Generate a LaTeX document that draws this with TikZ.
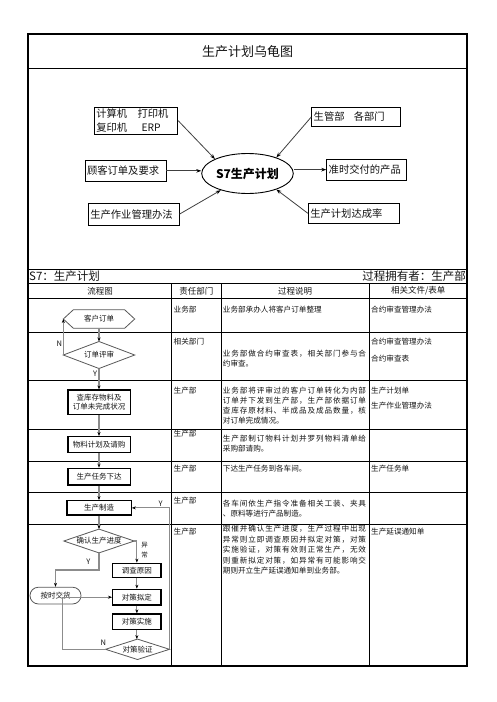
\documentclass[tikz,border=0pt]{standalone}
\usepackage{fontspec}
\setmainfont{Noto Sans CJK SC}
\newfontfamily\jfam[LetterSpace=11.5]{Noto Sans CJK SC}
\newcommand\jline[1]{{\jfam #1}}
\usetikzlibrary{arrows.meta,shapes.geometric,calc}
\begin{document}
\begin{tikzpicture}[x=1pt,y=-1pt,
  every node/.style={inner sep=0pt, text=black!92},
  frame/.style={line width=1.3pt},
  grid/.style={line width=0.9pt},
  tbox/.style={draw, line width=0.9pt, inner xsep=2pt, inner ysep=0pt, align=left, font=\fontsize{10.3}{13.3}\selectfont},
  tarrow/.style={draw=black!75, line width=0.8pt, -{Stealth[length=5pt,width=3.6pt,black]}},
  fbox/.style={draw=black, line width=1.3pt, font=\fontsize{7.5}{9.5}\selectfont, align=center},
  ftxt/.style={font=\fontsize{7.5}{9.5}\selectfont},
  fshape/.style={draw=black!65, line width=0.8pt},
  flow/.style={draw=black!45, line width=1.1pt, -{Stealth[length=4pt,width=3pt,black]}},
  cell/.style={anchor=north west, align=left, font=\fontsize{7.6}{10}\selectfont},
  head/.style={font=\fontsize{8.5}{10}\selectfont},
]
\useasboundingbox (0,0) rectangle (496,702);
\fill[white] (0,0) rectangle (496,702);

% ---------- frame and table lines ----------
\draw[frame] (28,34) rectangle (467,666);
\draw[grid] (28,68) -- (467,68);
\draw[grid] (28,269) -- (467,269);
\draw[grid] (28,283.5) -- (467,283.5);
\foreach \yy in {298.3,332.7,380,429.3,461,492.7,524}
  \draw[grid] (28,\yy) -- (467,\yy);
\foreach \xx in {171.7,221,369.3}
  \draw[grid] (\xx,283.5) -- (\xx,666);

% ---------- title ----------
\node[font=\fontsize{13}{15}\selectfont] (title) at (247.5,51.5) {生产计划乌龟图};

% ---------- turtle diagram ----------
\node[ellipse, draw, line width=0.9pt, minimum width=91.6pt, minimum height=40pt,
      font=\fontsize{12}{14}\selectfont\bfseries, text=black] (s7) at (247.5,173.5) {S7生产计划};
\node[tbox, text width=79.4pt, minimum height=26.7pt] (jsj) at (136,120.65) {计算机\hspace{1em}打印机\\复印机\hspace{1.4em}ERP};
\node[tbox, text width=85pt, minimum height=19.4pt] (sgb) at (356.2,117) {生管部\hspace{0.9em}各部门};
\node[tbox, text width=77pt, minimum height=21.7pt] (gk) at (125.5,170.85) {顾客订单及要求};
\node[tbox, text width=75.3pt, minimum height=20.7pt] (zs) at (366.35,169.65) {准时交付的产品};
\node[tbox, text width=86.7pt, minimum height=21.7pt] (sczy) at (133.65,214.15) {生产作业管理办法};
\node[tbox, text width=87pt, minimum height=20pt] (dcl) at (353.8,213.3) {生产计划达成率};

\draw[tarrow] (jsj.east) -- (s7.156);
\draw[tarrow] (sgb.west) -- (s7.29);
\draw[tarrow] (gk.east) -- (gk.east -| s7.west);
\draw[tarrow] (zs.west -| s7.east) -- (zs.west);
\draw[tarrow] (sczy.east) -- (s7.212);
\draw[tarrow] (dcl.west) -- (s7.331);

% ---------- S7 row and header ----------
\node[anchor=west, font=\fontsize{11.5}{13}\selectfont] (s7t) at (29,276.5) {S7：生产计划};
\node[anchor=east, font=\fontsize{11.5}{13}\selectfont] (own) at (466,276.5) {过程拥有者：生产部};
\node[head] (h1) at (100,291) {流程图};
\node[head] (h2) at (196.3,291) {责任部门};
\node[head] (h3) at (295.2,291) {过程说明};
\node[head] (h4) at (418.2,291) {相关文件/表单};

% ---------- table cells ----------
% row 1
\node[cell] (r1a) at (173.5,306) {业务部};
\node[cell] (r1b) at (222.7,306) {业务部承办人将客户订单整理};
\node[cell] (r1c) at (371,306) {合约审查管理办法};
% row 2
\node[cell] (r2a) at (173.5,338.3) {相关部门};
\node[cell] (r2b) at (222.7,350) {\jline{业务部做合约审查表，相关部门参与合}\\约审查。};
\node[cell] (r2c) at (371,338.3) {合约审查管理办法};
\node[cell] (r2d) at (371,355) {合约审查表};
% row 3
\node[cell] (r3a) at (173.5,386.6) {生产部};
\node[cell] (r3b) at (222.7,386.6) {\jline{业务部将评审过的客户订单转化为内部}\\\jline{订单并下发到生产部，生产部依据订单}\\\jline{查库存原材料、半成品及成品数量，核}\\对订单完成情况。};
\node[cell] (r3c) at (371,386.6) {生产计划单};
\node[cell] (r3d) at (371,401.6) {生产作业管理办法};
% row 4
\node[cell] (r4a) at (173.5,429.8) {生产部};
\node[cell] (r4b) at (222.7,435) {\jline{生产部制订物料计划并罗列物料清单给}\\采购部请购。};
% row 5
\node[cell] (r5a) at (173.5,465) {生产部};
\node[cell] (r5b) at (222.7,465) {下达生产任务到各车间。};
\node[cell] (r5c) at (371,465) {生产任务单};
% row 6
\node[cell] (r6a) at (173.5,497.3) {生产部};
\node[cell] (r6b) at (222.7,500.3) {\jline{各车间依生产指令准备相关工装、夹具}\\、原料等进行产品制造。};
% row 7
\node[cell] (r7a) at (173.5,528.3) {生产部};
\node[cell, font=\fontsize{7.6}{10.4}\selectfont] (r7b) at (222.7,525.3) {\jline{跟催并确认生产进度，生产过程中出现}\\\jline{异常则立即调查原因并拟定对策，对策}\\\jline{实施验证，对策有效则正常生产，无效}\\\jline{则重新拟定对策，如异常有可能影响交}\\期则开立生产延误通知单到业务部。};
\node[cell] (r7c) at (371,528.3) {生产延误通知单};

% ---------- flowchart ----------
\node[ftxt, minimum width=71pt, minimum height=18pt] (co) at (99,319) {客户订单};
\draw[fshape] (co.west) -- ($(co.north west)+(10,0)$) -- ($(co.north east)+(-10,0)$) -- (co.east)
  -- ($(co.south east)+(-10,0)$) -- ($(co.south west)+(10,0)$) -- cycle;
\node[ftxt, minimum width=71pt, minimum height=26.6pt] (dp) at (99,355) {订单评审};
\draw[fshape] (dp.west) -- (dp.north) -- (dp.east) -- (dp.south) -- cycle;
\node[fbox, minimum width=62.3pt, minimum height=24.3pt] (ck) at (99,402.2) {查库存物料及\\订单未完成状况};
\node[fbox, minimum width=62.3pt, minimum height=16pt] (wl) at (99,444.7) {物料计划及请购};
\node[fbox, minimum width=62.3pt, minimum height=16.7pt] (rw) at (99,476.7) {生产任务下达};
\node[fbox, minimum width=64.3pt, minimum height=14.3pt] (zz) at (99,507.9) {生产制造};
\node[ftxt, minimum width=70pt, minimum height=23.4pt] (qr) at (99,541) {确认生产进度};
\draw[fshape] (qr.west) -- (qr.north) -- (qr.east) -- (qr.south) -- cycle;
\node[ftxt, draw=black!65, line width=0.8pt, rounded corners=8.3pt, minimum width=51pt, minimum height=16.7pt] (ajh) at (55.5,595.6) {按时交货};
\node[fbox, minimum width=48.3pt, minimum height=14pt] (dc) at (136.85,570.3) {调查原因};
\node[fbox, minimum width=48.3pt, minimum height=15.7pt] (nd) at (136.85,597.2) {对策拟定};
\node[fbox, minimum width=48.3pt, minimum height=15.3pt] (ss) at (136.85,621.7) {对策实施};
\node[ftxt, minimum width=63.5pt, minimum height=20pt] (dv) at (137.5,649.3) {对策验证};
\draw[fshape] (dv.west) -- (dv.north) -- (dv.east) -- (dv.south) -- cycle;

\draw[flow] (co.south) -- (dp.north);
\draw[flow] (dp.west) -- (co.west);
\draw[flow] (dp.south) -- (ck.north);
\draw[flow] (ck.south) -- (wl.north);
\draw[flow] (wl.south) -- (rw.north);
\draw[flow] (rw.south) -- (zz.north);
\draw[flow] (zz.south) -- (qr.north);
\coordinate (yb) at (99,570);
\draw[flow] (qr.south) -- (yb) -| (ajh.north);
\draw[flow] (qr.east) -| (dc.north);
\draw[flow] (dc.south) -- (nd.north);
\draw[flow] (nd.south) -- (ss.north);
\draw[flow] (ss.south) -- (ss.south |- dv.north);
\coordinate (nl) at (62.3,649.3);
\draw[flow] (dv.west) -- (nl) |- (nd.west);
\draw[flow] (dv.east) |- (zz.east);

\node[ftxt] (ln1) at (59.3,344) {N};
\node[ftxt] (ly1) at (95,373.5) {Y};
\node[ftxt] (ly2) at (88.3,561.7) {Y};
\node[align=center, font=\fontsize{6.5}{10}\selectfont] (lyc) at (144.5,550) {异\\常};
\node[ftxt] (ln2) at (103.3,642.7) {N};
\node[ftxt] (ly3) at (160.5,504) {Y};
\end{tikzpicture}
\end{document}
